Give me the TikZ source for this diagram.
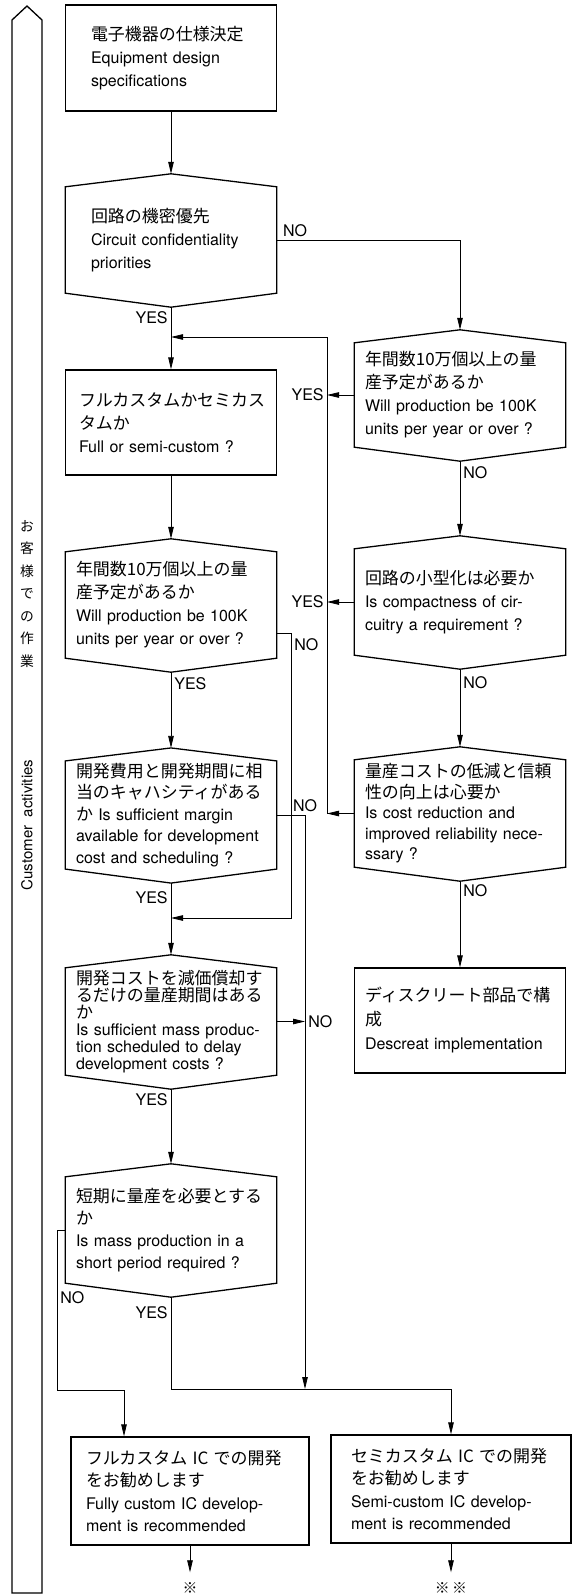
\documentclass[tikz,border=0pt]{standalone}
\usepackage{fontspec}
\setmainfont{TeX Gyre Heros}
\newfontfamily\jp{Noto Sans CJK JP}[Scale=1.06]
\usetikzlibrary{arrows.meta}
\lineskiplimit=-6pt

\tikzset{
  boxline/.style={line width=1.3pt},
  lead/.style={font=\fontsize{16}{#1}\selectfont},
  lead/.default=23,
  base/.style={rectangle, inner sep=2pt, text width=190pt, align=left, minimum width=211pt, lead},
  proc/.style={base, draw, boxline},
  decide/.style={base},
  link/.style={line width=0.8pt},
  yn/.style={font=\fontsize{16}{18}\selectfont, inner sep=3pt},
  endmark/.style={font=\jp\fontsize{14}{16}\selectfont, inner xsep=0pt, inner ysep=10pt},
}

\begin{document}
\begin{tikzpicture}[x=1pt,y=-1pt,>={Triangle[length=12pt,width=5.5pt]}]
\useasboundingbox (0,0) rectangle (577,1595);

% customer band
\draw[boxline] (12,1593) -- (12,20) -- (27,6) -- (42,20) -- (42,1593) -- cycle;
\node[font=\jp\fontsize{13}{22.5}\selectfont, align=center, inner sep=0pt] (bandjp) at (27,594) {お\\客\\様\\で\\の\\作\\業};
\node[rotate=90, font=\fontsize{15}{18}\selectfont] (banden) at (27,825) {Customer\ \ activities};

% left column
\node[proc, minimum height=106pt, text width=160pt] (spec) at (171,58)
  {{\jp 電子機器の仕様決定}\\Equipment design\\specifications};
\node[decide, minimum height=106pt, text width=160pt] (conf) at (171,240)
  {{\jp 回路の機密優先}\\Circuit confidentiality\\priorities};
\node[proc, minimum height=105pt, text width=184pt] (fsc) at (171,422.5)
  {{\jp フルカスタムかセミカス}\\{\jp タムか}\\Full or semi-custom ?};
\node[decide, minimum height=106pt] (volL) at (171,605)
  {{\jp 年間数10万個以上の量}\\{\jp 産予定があるか}\\Will production be 100K\\units per year or over ?};
\node[decide, minimum height=106pt, lead=21.5] (margin) at (171,815)
  {{\jp 開発費用と開発期間に相}\\{\jp 当のキャハシティがある}\\{\jp か} Is sufficient margin\\available for development\\cost and scheduling ?};
\node[decide, minimum height=107pt, lead=17] (amort) at (171,1021.5)
  {{\jp 開発コストを減価償却す}\\{\jp るだけの量産期間はある}\\{\jp か}\\Is sufficient mass produc-\\tion scheduled to delay\\development costs ?};
\node[decide, minimum height=106pt, lead=22] (short) at (171,1230)
  {{\jp 短期に量産を必要とする}\\{\jp か}\\Is mass production in a\\short period required ?};

% right column
\node[decide, minimum height=104pt] (volR) at (460,395)
  {{\jp 年間数10万個以上の量}\\{\jp 産予定があるか}\\Will production be 100K\\units per year or over ?};
\node[decide, minimum height=106pt] (compact) at (460,602)
  {{\jp 回路の小型化は必要か}\\Is compactness of cir-\\cuitry a requirement ?};
\node[decide, minimum height=107pt, lead=20.5] (cost) at (460,813.5)
  {{\jp 量産コストの低減と信頼}\\{\jp 性の向上は心要か}\\Is cost reduction and\\improved reliability nece-\\ssary ?};
\node[proc, minimum height=105pt, lead=24] (disc) at (460,1020.5)
  {{\jp ディスクリート部品で構}\\{\jp 成}\\Descreat implementation};

% results
\node[proc, minimum width=238pt, minimum height=108pt, text width=208pt, lead=22.5] (fullIC) at (190,1491)
  {{\jp フルカスタム IC での開発}\\{\jp をお勧めします}\\Fully custom IC develop-\\ment is recommended};
\node[proc, minimum width=240pt, minimum height=108pt, text width=200pt, lead=22.5] (semiIC) at (451,1489)
  {{\jp セミカスタム IC での開発}\\{\jp をお勧めします}\\Semi-custom IC develop-\\ment is recommended};
\node[endmark] (endA) at (190,1588) {※};
\node[endmark] (endB) at (451,1588) {※\,※};

% decision outlines
\foreach \n in {conf,volL,margin,amort,short,volR,compact,cost}{
  \draw[boxline] (\n.north west) -- ([yshift=13pt]\n.north) -- (\n.north east)
    -- (\n.south east) -- ([yshift=-14pt]\n.south) -- (\n.south west) -- cycle;
  \coordinate (\n-top) at ([yshift=13pt]\n.north);
  \coordinate (\n-bot) at ([yshift=-14pt]\n.south);
}

\coordinate (busT) at (327,337);
\coordinate (loopA) at (291,918);
\coordinate (busL) at (305,1389);
\coordinate (split) at (171,1389);
\coordinate (noK) at (57,1390);
\coordinate (fullIn) at (124,1390);

\begin{scope}[link]
\draw[->] (spec.south) -- (conf-top);
\draw[->] (conf.east) -| (volR-top) node[yn, pos=0.05, above] {NO};
\draw[->] (conf-bot) -- (fsc.north) node[yn, pos=0.17, left] {YES};
\draw[->] (volR-bot) -- (compact-top) node[yn, pos=0.15, right] {NO};
\draw[->] (compact-bot) -- (cost-top) node[yn, pos=0.17, right] {NO};
\draw[->] (cost-bot) -- (disc.north) node[yn, pos=0.11, right] {NO};
\draw[->] (volR.west) -- (volR.west -| busT) node[yn, left] {YES};
\draw[->] (compact.west) -- (compact.west -| busT) node[yn, left] {YES};
\draw[->] (cost.west) -- (cost.west -| busT);
\draw[->] (cost.west -| busT) -- (busT) -- (busT -| conf-bot);
\draw[->] (fsc.south) -- (volL-top);
\draw[->] ([yshift=-28pt]volL.east) -| (loopA) node[yn, pos=0.52, right] {NO} -- (loopA -| volL-bot);
\draw[->] (volL-bot) -- (margin-top) node[yn, pos=0.15, right] {YES};
\draw[->] (margin.east) -| (busL) node[yn, pos=0.5, above] {NO};
\draw[->] (margin-bot) -- (amort-top) node[yn, pos=0.2, left] {YES};
\draw[->] (amort.east) -- (amort.east -| busL) node[yn, right] {NO};
\draw[->] (amort-bot) -- (short-top) node[yn, pos=0.14, left] {YES};
\draw[->] (short.west) -| (noK) node[yn, pos=0.71, right] {NO} -- (fullIn) -- (fullIn |- fullIC.north);
\draw[->] (short-bot) -- (split) node[yn, pos=0.17, left] {YES} -| (semiIC.north);
\draw[->] (fullIC.south) -- (endA);
\draw[->] (semiIC.south) -- (endB);
\end{scope}
\end{tikzpicture}
\end{document}
